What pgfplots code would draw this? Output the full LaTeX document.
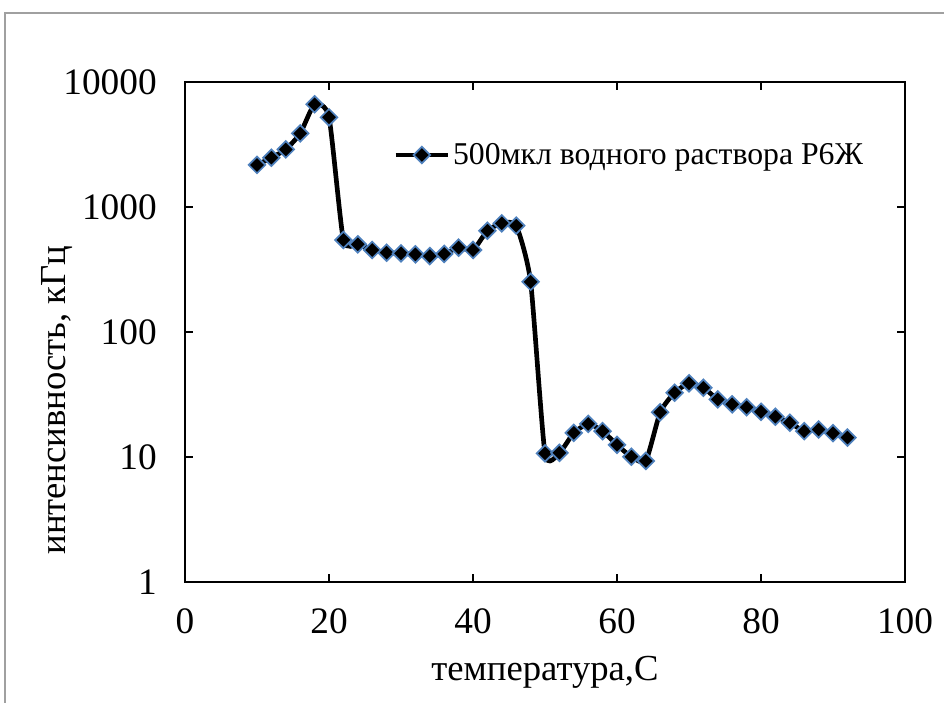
\documentclass[border=0pt]{standalone}
\usepackage{pgfplots}
\pgfplotsset{compat=1.18}
\usepackage{fontspec}
\setmainfont{Liberation Serif}

\definecolor{markedge}{RGB}{79,129,189}
\definecolor{framegray}{RGB}{160,160,160}

\pgfplotstableread{
T I
10 2170
12 2480
14 2890
16 3880
18 6630
20 5220
22 545
24 503
26 453
28 431
30 426
32 418
34 405
36 421
38 473
40 453
42 646
44 740
46 709
48 252
50 10.7
52 10.8
54 15.6
56 18.4
58 16.1
60 12.5
62 10.05
64 9.3
66 22.8
68 32.7
70 38.9
72 35.8
74 28.9
76 26.4
78 25.0
80 23.0
82 21.0
84 18.8
86 16.1
88 16.6
90 15.5
92 14.3
}\intensity

\begin{document}
\begin{tikzpicture}
\useasboundingbox (0pt,0pt) rectangle (708pt,526.5pt);
% outer chart frame
\draw[framegray, line width=1.5pt] (3.75pt,-5pt) -- (3.75pt,516.75pt) -- (715pt,516.75pt);
\begin{axis}[
  at={(138.75pt,90pt)}, anchor=south west,
  scale only axis,
  width=540pt, height=375pt,
  xmin=0, xmax=100,
  ymode=log, ymin=1, ymax=10000,
  log basis y=10,
  xtick={0,20,40,60,80,100},
  ytick={1,10,100,1000,10000},
  yticklabels={1,10,100,1000,10000},
  minor tick num=0,
  yminorticks=false,
  tick align=inside,
  major tick length=6pt,
  tick style={black, line width=1.6pt},
  axis line style={line width=2.2pt},
  /pgf/number format/assume math mode=true,
  ticklabel style={font=\fontsize{28}{30}\selectfont},
  xticklabel style={inner sep=0pt, anchor=north, yshift=-20pt},
  yticklabel style={inner sep=0pt, anchor=east, xshift=-21pt},
  xlabel={температура,С},
  ylabel={интенсивность, кГц},
  label style={font=\fontsize{27.5}{29}\selectfont},
  xlabel style={at={(axis description cs:0.5,-0.18)}, anchor=center},
  ylabel style={at={(axis description cs:-0.178,0.364)}, anchor=center},
  legend style={draw=none, fill=none, at={(axis description cs:0.289,0.854)},
    anchor=west, font=\fontsize{23.8}{25}\selectfont,
    inner sep=0pt, nodes={inner sep=2pt}},
  legend cell align=left,
  legend image code/.code={
    \draw[mark repeat=2, mark phase=2, #1] plot coordinates {(0cm,0cm) (0.69cm,0cm) (1.38cm,0cm)};
  },
  clip=false,
]
\addplot[black, line width=3.5pt, smooth, tension=0.35,
  mark=square*, mark size=4.4pt,
  mark options={rotate=45, fill=black, draw=markedge, line width=1.3pt, solid}]
  table[x=T, y=I] {\intensity};
\addlegendentry{500мкл водного раствора Р6Ж}
\end{axis}
\end{tikzpicture}
\end{document}
